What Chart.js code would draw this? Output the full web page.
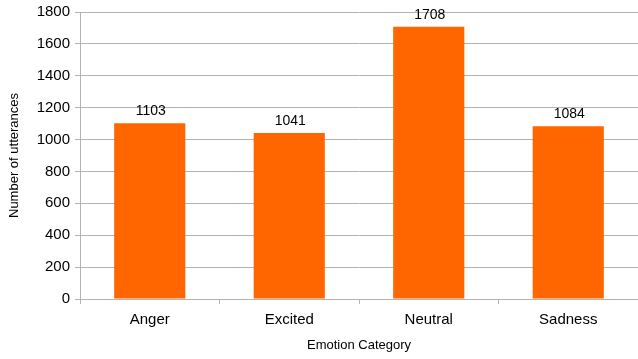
<!DOCTYPE html>
<html>
<head>
<meta charset="utf-8">
<script src="https://cdn.jsdelivr.net/npm/chart.js@4"></script>
<style>
  html, body { margin: 0; padding: 0; background: #fff; }
  #wrap { width: 638px; height: 359px; }
</style>
</head>
<body>
<div id="wrap"><canvas id="chart" width="638" height="359"></canvas></div>
<script>
const categories = ['Anger', 'Excited', 'Neutral', 'Sadness'];
const utterances = [1103, 1041, 1708, 1084];
const yTicks = [0, 200, 400, 600, 800, 1000, 1200, 1400, 1600, 1800];

const FONT = '"Liberation Sans", Arial, sans-serif';
const GRID = '#b3b3b3';

// draws the value above each bar
const valueLabels = {
    id: 'valueLabels',
    afterDatasetsDraw(chart) {
        const ctx = chart.ctx;
        const meta = chart.getDatasetMeta(0);
        ctx.save();
        ctx.font = '14px ' + FONT;
        ctx.fillStyle = '#000';
        ctx.textAlign = 'center';
        ctx.textBaseline = 'bottom';
        meta.data.forEach((bar, i) => {
            ctx.fillText(String(utterances[i]), bar.x + 1, bar.y - 5);
        });
        ctx.restore();
    }
};

new Chart(document.getElementById('chart'), {
    type: 'bar',
    data: {
        labels: categories,
        datasets: [{
            data: utterances,
            backgroundColor: '#ff6600',
            borderWidth: 0,
            categoryPercentage: 1,
            barPercentage: 0.51
        }]
    },
    options: {
        responsive: false,
        animation: false,
        layout: { padding: { top: 12, right: 0, left: 1, bottom: 0 } },
        plugins: {
            legend: { display: false },
            tooltip: { enabled: false }
        },
        scales: {
            x: {
                grid: {
                    offset: true,
                    drawOnChartArea: false,
                    color: GRID,
                    tickLength: 5,
                    lineWidth: 1
                },
                border: { color: GRID },
                ticks: { color: '#000', font: { family: FONT, size: 15 }, padding: 7 },
                title: {
                    display: true,
                    text: 'Emotion Category',
                    color: '#000',
                    font: { family: FONT, size: 13 },
                    padding: { top: 8, bottom: 6 }
                },
                afterFit(scale) { scale.height = 60; }
            },
            y: {
                min: 0,
                max: 1800,
                afterBuildTicks(scale) {
                    scale.ticks = yTicks.map(v => ({ value: v }));
                },
                grid: { color: GRID, tickLength: 5 },
                border: { color: GRID },
                ticks: {
                    color: '#000',
                    font: { family: FONT, size: 15, lineHeight: 1 },
                    padding: 5,
                    callback: v => String(v)
                },
                title: {
                    display: true,
                    text: 'Number of utterances',
                    color: '#000',
                    font: { family: FONT, size: 13 },
                    padding: { top: 6, bottom: 4 }
                },
                afterFit(scale) {
                    scale.width = 79;
                    scale.paddingTop = 4;
                }
            }
        }
    },
    plugins: [valueLabels]
});
</script>
</body>
</html>
